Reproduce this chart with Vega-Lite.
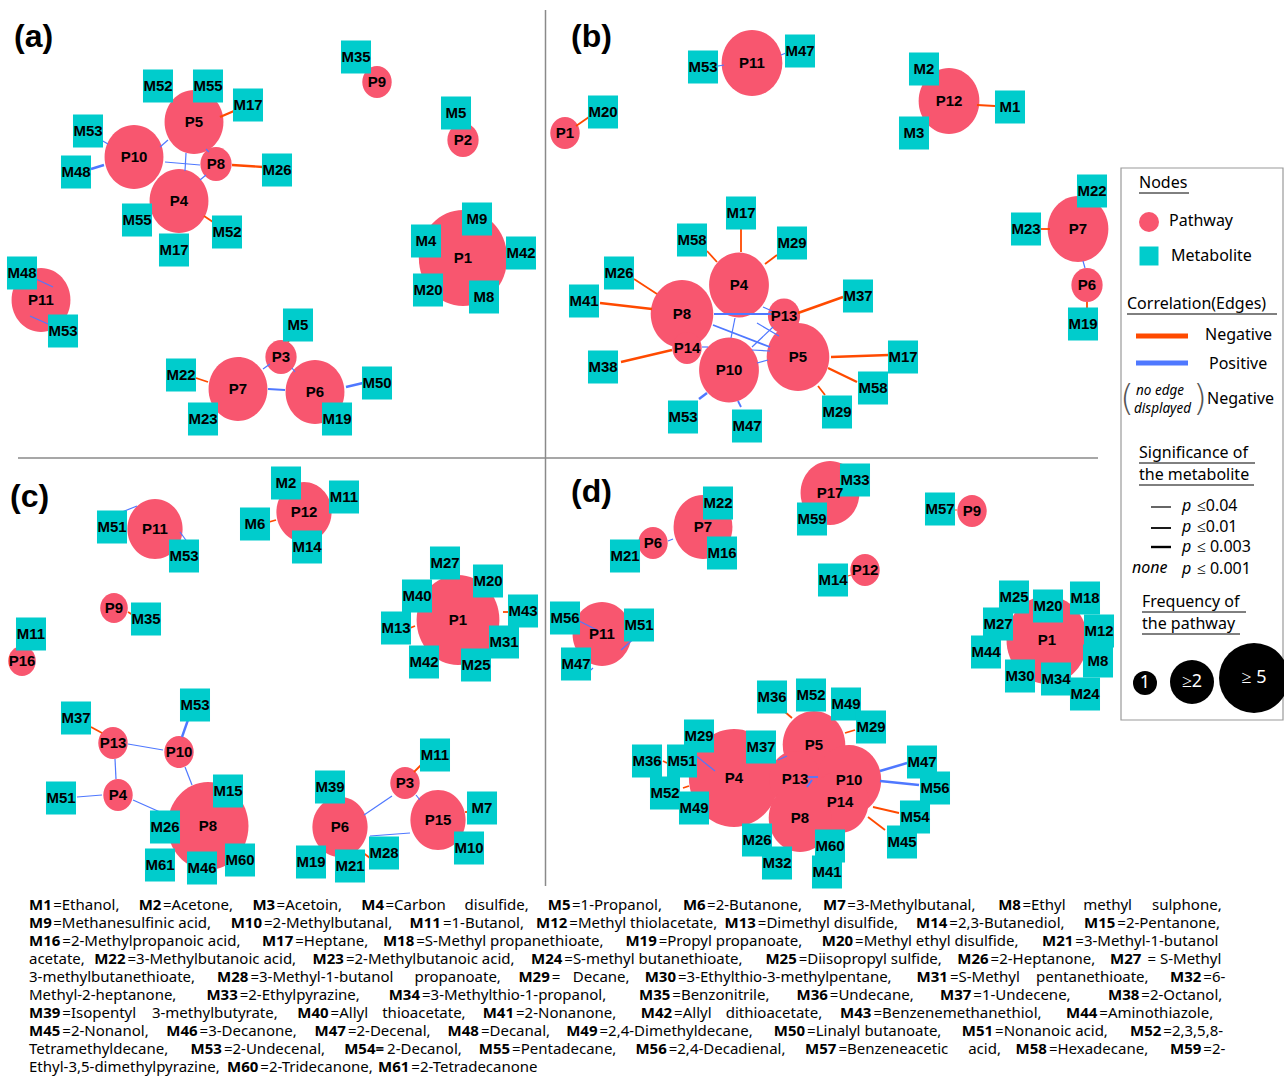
{
  "$schema": "https://vega.github.io/schema/vega-lite/v6.json",
  "width": 1284,
  "height": 1077,
  "autosize": {"type": "none"},
  "padding": 0,
  "background": "white",
  "config": {"view": {"stroke": null}, "text": {"font": "Noto Sans"}},
  "encoding": {
    "x": {"field": "x", "type": "quantitative", "scale": {"domain": [0, 1284], "nice": false, "zero": false}, "axis": null},
    "y": {"field": "y", "type": "quantitative", "scale": {"domain": [0, 1077], "nice": false, "zero": false, "reverse": true}, "axis": null}
  },
  "datasets": {
    "frame": [
      {"x": 545.5, "y": 10, "x2": 545.5, "y2": 886},
      {"x": 18, "y": 458, "x2": 1098, "y2": 458}
    ],
    "legendBox": [{"x": 1121, "y": 168, "x2": 1283, "y2": 720}],
    "nodes": [
      {"panel": "a", "kind": "P", "id": "P5", "x": 194, "y": 122, "r": 32},
      {"panel": "a", "kind": "P", "id": "P10", "x": 134, "y": 157, "r": 32},
      {"panel": "a", "kind": "P", "id": "P8", "x": 216, "y": 164, "r": 17},
      {"panel": "a", "kind": "P", "id": "P4", "x": 179, "y": 201, "r": 32},
      {"panel": "a", "kind": "P", "id": "P9", "x": 377, "y": 82, "r": 16},
      {"panel": "a", "kind": "P", "id": "P2", "x": 463, "y": 140, "r": 17},
      {"panel": "a", "kind": "P", "id": "P1", "x": 463, "y": 258, "r": 48},
      {"panel": "a", "kind": "P", "id": "P11", "x": 41, "y": 300, "r": 32},
      {"panel": "a", "kind": "P", "id": "P3", "x": 281, "y": 357, "r": 17},
      {"panel": "a", "kind": "P", "id": "P7", "x": 238, "y": 389, "r": 32},
      {"panel": "a", "kind": "P", "id": "P6", "x": 315, "y": 392, "r": 32},
      {"panel": "a", "kind": "M", "id": "M35", "x": 356, "y": 57},
      {"panel": "a", "kind": "M", "id": "M52", "x": 158, "y": 86},
      {"panel": "a", "kind": "M", "id": "M55", "x": 208, "y": 86},
      {"panel": "a", "kind": "M", "id": "M17", "x": 248, "y": 105},
      {"panel": "a", "kind": "M", "id": "M53", "x": 88, "y": 131},
      {"panel": "a", "kind": "M", "id": "M5", "x": 456, "y": 113},
      {"panel": "a", "kind": "M", "id": "M48", "x": 76, "y": 172},
      {"panel": "a", "kind": "M", "id": "M26", "x": 277, "y": 170},
      {"panel": "a", "kind": "M", "id": "M55", "x": 137, "y": 220},
      {"panel": "a", "kind": "M", "id": "M52", "x": 227, "y": 232},
      {"panel": "a", "kind": "M", "id": "M17", "x": 174, "y": 250},
      {"panel": "a", "kind": "M", "id": "M9", "x": 477, "y": 219},
      {"panel": "a", "kind": "M", "id": "M4", "x": 426, "y": 241},
      {"panel": "a", "kind": "M", "id": "M42", "x": 521, "y": 253},
      {"panel": "a", "kind": "M", "id": "M20", "x": 428, "y": 290},
      {"panel": "a", "kind": "M", "id": "M8", "x": 484, "y": 297},
      {"panel": "a", "kind": "M", "id": "M48", "x": 22, "y": 273},
      {"panel": "a", "kind": "M", "id": "M53", "x": 63, "y": 331},
      {"panel": "a", "kind": "M", "id": "M5", "x": 298, "y": 325},
      {"panel": "a", "kind": "M", "id": "M22", "x": 181, "y": 375},
      {"panel": "a", "kind": "M", "id": "M50", "x": 377, "y": 383},
      {"panel": "a", "kind": "M", "id": "M23", "x": 203, "y": 419},
      {"panel": "a", "kind": "M", "id": "M19", "x": 337, "y": 419},

      {"panel": "b", "kind": "P", "id": "P11", "x": 752, "y": 63, "r": 33},
      {"panel": "b", "kind": "P", "id": "P12", "x": 949, "y": 101, "r": 33},
      {"panel": "b", "kind": "P", "id": "P1", "x": 565, "y": 133, "r": 16},
      {"panel": "b", "kind": "P", "id": "P7", "x": 1078, "y": 229, "r": 33},
      {"panel": "b", "kind": "P", "id": "P6", "x": 1087, "y": 285, "r": 17},
      {"panel": "b", "kind": "P", "id": "P4", "x": 739, "y": 285, "r": 32.5},
      {"panel": "b", "kind": "P", "id": "P8", "x": 682, "y": 314, "r": 34},
      {"panel": "b", "kind": "P", "id": "P13", "x": 784, "y": 316, "r": 17.5},
      {"panel": "b", "kind": "P", "id": "P14", "x": 687, "y": 348, "r": 16},
      {"panel": "b", "kind": "P", "id": "P10", "x": 729, "y": 370, "r": 32.5},
      {"panel": "b", "kind": "P", "id": "P5", "x": 798, "y": 357, "r": 34},
      {"panel": "b", "kind": "M", "id": "M53", "x": 703, "y": 67},
      {"panel": "b", "kind": "M", "id": "M47", "x": 800, "y": 51},
      {"panel": "b", "kind": "M", "id": "M2", "x": 924, "y": 69},
      {"panel": "b", "kind": "M", "id": "M1", "x": 1010, "y": 107},
      {"panel": "b", "kind": "M", "id": "M3", "x": 914, "y": 133},
      {"panel": "b", "kind": "M", "id": "M20", "x": 603, "y": 112},
      {"panel": "b", "kind": "M", "id": "M22", "x": 1092, "y": 191},
      {"panel": "b", "kind": "M", "id": "M23", "x": 1026, "y": 229},
      {"panel": "b", "kind": "M", "id": "M19", "x": 1083, "y": 324},
      {"panel": "b", "kind": "M", "id": "M17", "x": 741, "y": 213},
      {"panel": "b", "kind": "M", "id": "M58", "x": 692, "y": 240},
      {"panel": "b", "kind": "M", "id": "M29", "x": 792, "y": 243},
      {"panel": "b", "kind": "M", "id": "M26", "x": 619, "y": 273},
      {"panel": "b", "kind": "M", "id": "M37", "x": 858, "y": 296},
      {"panel": "b", "kind": "M", "id": "M41", "x": 584, "y": 301},
      {"panel": "b", "kind": "M", "id": "M17", "x": 903, "y": 357},
      {"panel": "b", "kind": "M", "id": "M38", "x": 603, "y": 367},
      {"panel": "b", "kind": "M", "id": "M58", "x": 873, "y": 388},
      {"panel": "b", "kind": "M", "id": "M53", "x": 683, "y": 417},
      {"panel": "b", "kind": "M", "id": "M47", "x": 747, "y": 426},
      {"panel": "b", "kind": "M", "id": "M29", "x": 837, "y": 412},

      {"panel": "c", "kind": "P", "id": "P11", "x": 155, "y": 529, "r": 30},
      {"panel": "c", "kind": "P", "id": "P12", "x": 304, "y": 512, "r": 30},
      {"panel": "c", "kind": "P", "id": "P9", "x": 114, "y": 608, "r": 15},
      {"panel": "c", "kind": "P", "id": "P16", "x": 22, "y": 661, "r": 15},
      {"panel": "c", "kind": "P", "id": "P1", "x": 458, "y": 620, "r": 45},
      {"panel": "c", "kind": "P", "id": "P13", "x": 113, "y": 743, "r": 16},
      {"panel": "c", "kind": "P", "id": "P10", "x": 179, "y": 752, "r": 16},
      {"panel": "c", "kind": "P", "id": "P4", "x": 118, "y": 795, "r": 16},
      {"panel": "c", "kind": "P", "id": "P8", "x": 208, "y": 826, "r": 44},
      {"panel": "c", "kind": "P", "id": "P3", "x": 405, "y": 783, "r": 16},
      {"panel": "c", "kind": "P", "id": "P6", "x": 340, "y": 827, "r": 30},
      {"panel": "c", "kind": "P", "id": "P15", "x": 438, "y": 820, "r": 30},
      {"panel": "c", "kind": "M", "id": "M51", "x": 112, "y": 527},
      {"panel": "c", "kind": "M", "id": "M53", "x": 184, "y": 556},
      {"panel": "c", "kind": "M", "id": "M2", "x": 286, "y": 483},
      {"panel": "c", "kind": "M", "id": "M11", "x": 344, "y": 497},
      {"panel": "c", "kind": "M", "id": "M6", "x": 255, "y": 524},
      {"panel": "c", "kind": "M", "id": "M14", "x": 307, "y": 547},
      {"panel": "c", "kind": "M", "id": "M35", "x": 146, "y": 619},
      {"panel": "c", "kind": "M", "id": "M11", "x": 31, "y": 634},
      {"panel": "c", "kind": "M", "id": "M27", "x": 445, "y": 563},
      {"panel": "c", "kind": "M", "id": "M20", "x": 488, "y": 581},
      {"panel": "c", "kind": "M", "id": "M40", "x": 417, "y": 596},
      {"panel": "c", "kind": "M", "id": "M43", "x": 523, "y": 611},
      {"panel": "c", "kind": "M", "id": "M13", "x": 396, "y": 628},
      {"panel": "c", "kind": "M", "id": "M31", "x": 504, "y": 642},
      {"panel": "c", "kind": "M", "id": "M42", "x": 424, "y": 662},
      {"panel": "c", "kind": "M", "id": "M25", "x": 476, "y": 665},
      {"panel": "c", "kind": "M", "id": "M53", "x": 195, "y": 705},
      {"panel": "c", "kind": "M", "id": "M37", "x": 76, "y": 718},
      {"panel": "c", "kind": "M", "id": "M15", "x": 228, "y": 791},
      {"panel": "c", "kind": "M", "id": "M51", "x": 61, "y": 798},
      {"panel": "c", "kind": "M", "id": "M26", "x": 165, "y": 827},
      {"panel": "c", "kind": "M", "id": "M61", "x": 160, "y": 865},
      {"panel": "c", "kind": "M", "id": "M46", "x": 202, "y": 868},
      {"panel": "c", "kind": "M", "id": "M60", "x": 240, "y": 860},
      {"panel": "c", "kind": "M", "id": "M11", "x": 435, "y": 755},
      {"panel": "c", "kind": "M", "id": "M39", "x": 330, "y": 787},
      {"panel": "c", "kind": "M", "id": "M7", "x": 482, "y": 808},
      {"panel": "c", "kind": "M", "id": "M10", "x": 469, "y": 848},
      {"panel": "c", "kind": "M", "id": "M28", "x": 384, "y": 853},
      {"panel": "c", "kind": "M", "id": "M19", "x": 311, "y": 862},
      {"panel": "c", "kind": "M", "id": "M21", "x": 350, "y": 866},

      {"panel": "d", "kind": "P", "id": "P17", "x": 830, "y": 493, "r": 32},
      {"panel": "d", "kind": "P", "id": "P9", "x": 972, "y": 511, "r": 16},
      {"panel": "d", "kind": "P", "id": "P7", "x": 703, "y": 527, "r": 32},
      {"panel": "d", "kind": "P", "id": "P6", "x": 653, "y": 543, "r": 16},
      {"panel": "d", "kind": "P", "id": "P12", "x": 865, "y": 570, "r": 16},
      {"panel": "d", "kind": "P", "id": "P11", "x": 602, "y": 634, "r": 32},
      {"panel": "d", "kind": "P", "id": "P1", "x": 1047, "y": 640, "r": 44},
      {"panel": "d", "kind": "P", "id": "P4", "x": 734, "y": 778, "r": 49},
      {"panel": "d", "kind": "P", "id": "P5", "x": 814, "y": 745, "r": 34},
      {"panel": "d", "kind": "P", "id": "P13", "x": 795, "y": 779, "r": 28},
      {"panel": "d", "kind": "P", "id": "P10", "x": 849, "y": 780, "r": 35},
      {"panel": "d", "kind": "P", "id": "P14", "x": 840, "y": 802, "r": 31},
      {"panel": "d", "kind": "P", "id": "P8", "x": 800, "y": 818, "r": 34},
      {"panel": "d", "kind": "M", "id": "M33", "x": 855, "y": 480},
      {"panel": "d", "kind": "M", "id": "M59", "x": 812, "y": 519},
      {"panel": "d", "kind": "M", "id": "M57", "x": 940, "y": 509},
      {"panel": "d", "kind": "M", "id": "M22", "x": 718, "y": 503},
      {"panel": "d", "kind": "M", "id": "M16", "x": 722, "y": 553},
      {"panel": "d", "kind": "M", "id": "M21", "x": 625, "y": 556},
      {"panel": "d", "kind": "M", "id": "M14", "x": 833, "y": 580},
      {"panel": "d", "kind": "M", "id": "M25", "x": 1014, "y": 597},
      {"panel": "d", "kind": "M", "id": "M18", "x": 1085, "y": 598},
      {"panel": "d", "kind": "M", "id": "M20", "x": 1048, "y": 606},
      {"panel": "d", "kind": "M", "id": "M27", "x": 998, "y": 624},
      {"panel": "d", "kind": "M", "id": "M12", "x": 1099, "y": 631},
      {"panel": "d", "kind": "M", "id": "M44", "x": 986, "y": 652},
      {"panel": "d", "kind": "M", "id": "M8", "x": 1098, "y": 661},
      {"panel": "d", "kind": "M", "id": "M30", "x": 1020, "y": 676},
      {"panel": "d", "kind": "M", "id": "M34", "x": 1056, "y": 679},
      {"panel": "d", "kind": "M", "id": "M24", "x": 1085, "y": 694},
      {"panel": "d", "kind": "M", "id": "M56", "x": 565, "y": 618},
      {"panel": "d", "kind": "M", "id": "M51", "x": 639, "y": 625},
      {"panel": "d", "kind": "M", "id": "M47", "x": 576, "y": 664},
      {"panel": "d", "kind": "M", "id": "M36", "x": 772, "y": 697},
      {"panel": "d", "kind": "M", "id": "M52", "x": 811, "y": 695},
      {"panel": "d", "kind": "M", "id": "M49", "x": 846, "y": 704},
      {"panel": "d", "kind": "M", "id": "M29", "x": 871, "y": 727},
      {"panel": "d", "kind": "M", "id": "M29", "x": 699, "y": 736},
      {"panel": "d", "kind": "M", "id": "M37", "x": 761, "y": 747},
      {"panel": "d", "kind": "M", "id": "M36", "x": 647, "y": 761},
      {"panel": "d", "kind": "M", "id": "M51", "x": 682, "y": 761},
      {"panel": "d", "kind": "M", "id": "M47", "x": 922, "y": 762},
      {"panel": "d", "kind": "M", "id": "M56", "x": 935, "y": 788},
      {"panel": "d", "kind": "M", "id": "M52", "x": 665, "y": 793},
      {"panel": "d", "kind": "M", "id": "M49", "x": 694, "y": 808},
      {"panel": "d", "kind": "M", "id": "M54", "x": 915, "y": 817},
      {"panel": "d", "kind": "M", "id": "M26", "x": 757, "y": 840},
      {"panel": "d", "kind": "M", "id": "M45", "x": 902, "y": 842},
      {"panel": "d", "kind": "M", "id": "M60", "x": 830, "y": 846},
      {"panel": "d", "kind": "M", "id": "M32", "x": 777, "y": 863},
      {"panel": "d", "kind": "M", "id": "M41", "x": 827, "y": 872}
    ],
    "edges": [
      {"x": 101, "y": 140, "x2": 108, "y2": 144, "sign": "Positive", "sig": "0.04"},
      {"x": 104, "y": 165, "x2": 91, "y2": 169, "sign": "Positive", "sig": "0.003"},
      {"x": 160, "y": 147, "x2": 168, "y2": 140, "sign": "Positive", "sig": "0.04"},
      {"x": 165, "y": 162, "x2": 200, "y2": 165, "sign": "Positive", "sig": "0.04"},
      {"x": 186, "y": 153, "x2": 185, "y2": 171, "sign": "Positive", "sig": "0.04"},
      {"x": 200, "y": 180, "x2": 206, "y2": 175, "sign": "Positive", "sig": "0.04"},
      {"x": 206, "y": 149, "x2": 209, "y2": 152, "sign": "Positive", "sig": "0.04"},
      {"x": 220, "y": 117, "x2": 234, "y2": 111, "sign": "Negative", "sig": "0.003"},
      {"x": 232, "y": 165, "x2": 263, "y2": 167, "sign": "Negative", "sig": "0.003"},
      {"x": 204, "y": 216, "x2": 213, "y2": 222, "sign": "Negative", "sig": "0.01"},
      {"x": 36, "y": 279, "x2": 53, "y2": 287, "sign": "Positive", "sig": "0.04"},
      {"x": 30, "y": 316, "x2": 48, "y2": 324, "sign": "Positive", "sig": "0.04"},
      {"x": 288, "y": 342, "x2": 291, "y2": 337, "sign": "Negative", "sig": "0.01"},
      {"x": 263, "y": 369, "x2": 270, "y2": 364, "sign": "Positive", "sig": "0.04"},
      {"x": 292, "y": 368, "x2": 295, "y2": 372, "sign": "Positive", "sig": "0.04"},
      {"x": 268, "y": 389, "x2": 285, "y2": 390, "sign": "Positive", "sig": "0.01"},
      {"x": 196, "y": 378, "x2": 208, "y2": 382, "sign": "Negative", "sig": "0.01"},
      {"x": 346, "y": 387, "x2": 363, "y2": 383, "sign": "Positive", "sig": "0.003"},

      {"x": 741, "y": 228, "x2": 741, "y2": 252, "sign": "Negative", "sig": "0.01"},
      {"x": 707, "y": 251, "x2": 717, "y2": 262, "sign": "Negative", "sig": "0.01"},
      {"x": 765, "y": 264, "x2": 777, "y2": 255, "sign": "Negative", "sig": "0.01"},
      {"x": 634, "y": 279, "x2": 657, "y2": 294, "sign": "Negative", "sig": "0.01"},
      {"x": 600, "y": 303, "x2": 652, "y2": 309, "sign": "Negative", "sig": "0.003"},
      {"x": 798, "y": 313, "x2": 843, "y2": 297, "sign": "Negative", "sig": "0.003"},
      {"x": 672, "y": 350, "x2": 621, "y2": 362, "sign": "Negative", "sig": "0.003"},
      {"x": 831, "y": 357, "x2": 889, "y2": 355, "sign": "Negative", "sig": "0.003"},
      {"x": 828, "y": 368, "x2": 857, "y2": 382, "sign": "Negative", "sig": "0.003"},
      {"x": 818, "y": 386, "x2": 825, "y2": 395, "sign": "Negative", "sig": "0.01"},
      {"x": 707, "y": 393, "x2": 699, "y2": 399, "sign": "Positive", "sig": "0.003"},
      {"x": 738, "y": 401, "x2": 741, "y2": 407, "sign": "Positive", "sig": "0.01"},
      {"x": 773, "y": 314, "x2": 714, "y2": 314, "sign": "Positive", "sig": "0.01"},
      {"x": 713, "y": 325, "x2": 770, "y2": 347, "sign": "Positive", "sig": "0.01"},
      {"x": 752, "y": 347, "x2": 773, "y2": 327, "sign": "Positive", "sig": "0.04"},
      {"x": 735, "y": 318, "x2": 731, "y2": 338, "sign": "Positive", "sig": "0.04"},
      {"x": 752, "y": 350, "x2": 770, "y2": 351, "sign": "Positive", "sig": "0.04"},
      {"x": 757, "y": 363, "x2": 768, "y2": 360, "sign": "Positive", "sig": "0.04"},
      {"x": 757, "y": 323, "x2": 779, "y2": 336, "sign": "Positive", "sig": "0.04"},
      {"x": 763, "y": 307, "x2": 772, "y2": 311, "sign": "Positive", "sig": "0.04"},
      {"x": 702, "y": 347, "x2": 708, "y2": 347, "sign": "Positive", "sig": "0.04"},
      {"x": 576, "y": 126, "x2": 589, "y2": 117, "sign": "Negative", "sig": "0.01"},
      {"x": 718, "y": 66, "x2": 724, "y2": 65, "sign": "Positive", "sig": "0.04"},
      {"x": 781, "y": 55, "x2": 786, "y2": 53, "sign": "Positive", "sig": "0.04"},
      {"x": 977, "y": 105, "x2": 995, "y2": 106, "sign": "Negative", "sig": "0.01"},
      {"x": 1040, "y": 229, "x2": 1050, "y2": 229, "sign": "Negative", "sig": "0.01"},
      {"x": 1083, "y": 261, "x2": 1085, "y2": 268, "sign": "Positive", "sig": "0.04"},
      {"x": 1087, "y": 302, "x2": 1087, "y2": 309, "sign": "Negative", "sig": "0.01"},

      {"x": 122, "y": 512, "x2": 137, "y2": 506, "sign": "Positive", "sig": "0.04"},
      {"x": 180, "y": 532, "x2": 188, "y2": 543, "sign": "Positive", "sig": "0.04"},
      {"x": 269, "y": 522, "x2": 276, "y2": 520, "sign": "Negative", "sig": "0.01"},
      {"x": 503, "y": 612, "x2": 510, "y2": 612, "sign": "Negative", "sig": "0.01"},
      {"x": 410, "y": 628, "x2": 415, "y2": 626, "sign": "Negative", "sig": "0.01"},
      {"x": 128, "y": 612, "x2": 133, "y2": 615, "sign": "Negative", "sig": "0.01"},
      {"x": 182, "y": 737, "x2": 189, "y2": 717, "sign": "Positive", "sig": "0.003"},
      {"x": 163, "y": 750, "x2": 128, "y2": 744, "sign": "Positive", "sig": "0.04"},
      {"x": 102, "y": 733, "x2": 91, "y2": 727, "sign": "Negative", "sig": "0.01"},
      {"x": 116, "y": 779, "x2": 115, "y2": 759, "sign": "Positive", "sig": "0.04"},
      {"x": 102, "y": 795, "x2": 77, "y2": 797, "sign": "Positive", "sig": "0.04"},
      {"x": 133, "y": 800, "x2": 160, "y2": 812, "sign": "Positive", "sig": "0.04"},
      {"x": 185, "y": 767, "x2": 192, "y2": 785, "sign": "Positive", "sig": "0.04"},
      {"x": 364, "y": 815, "x2": 392, "y2": 796, "sign": "Positive", "sig": "0.04"},
      {"x": 370, "y": 836, "x2": 410, "y2": 833, "sign": "Positive", "sig": "0.04"},
      {"x": 414, "y": 772, "x2": 421, "y2": 765, "sign": "Negative", "sig": "0.01"},
      {"x": 416, "y": 795, "x2": 420, "y2": 800, "sign": "Positive", "sig": "0.04"},
      {"x": 465, "y": 812, "x2": 469, "y2": 812, "sign": "Negative", "sig": "0.01"},
      {"x": 362, "y": 852, "x2": 370, "y2": 858, "sign": "Negative", "sig": "0.01"},

      {"x": 663, "y": 761, "x2": 667, "y2": 763, "sign": "Negative", "sig": "0.01"},
      {"x": 695, "y": 755, "x2": 715, "y2": 771, "sign": "Positive", "sig": "0.04"},
      {"x": 683, "y": 788, "x2": 689, "y2": 786, "sign": "Negative", "sig": "0.01"},
      {"x": 785, "y": 712, "x2": 792, "y2": 718, "sign": "Negative", "sig": "0.01"},
      {"x": 845, "y": 733, "x2": 855, "y2": 730, "sign": "Negative", "sig": "0.01"},
      {"x": 778, "y": 760, "x2": 787, "y2": 756, "sign": "Positive", "sig": "0.04"},
      {"x": 808, "y": 777, "x2": 818, "y2": 777, "sign": "Positive", "sig": "0.01"},
      {"x": 807, "y": 787, "x2": 812, "y2": 780, "sign": "Positive", "sig": "0.01"},
      {"x": 880, "y": 771, "x2": 907, "y2": 763, "sign": "Positive", "sig": "0.003"},
      {"x": 880, "y": 781, "x2": 919, "y2": 785, "sign": "Positive", "sig": "0.003"},
      {"x": 873, "y": 807, "x2": 899, "y2": 813, "sign": "Negative", "sig": "0.01"},
      {"x": 868, "y": 817, "x2": 885, "y2": 830, "sign": "Negative", "sig": "0.01"},
      {"x": 577, "y": 620, "x2": 597, "y2": 630, "sign": "Positive", "sig": "0.04"},
      {"x": 621, "y": 650, "x2": 637, "y2": 636, "sign": "Positive", "sig": "0.04"},
      {"x": 584, "y": 676, "x2": 593, "y2": 668, "sign": "Positive", "sig": "0.04"},
      {"x": 668, "y": 541, "x2": 673, "y2": 539, "sign": "Positive", "sig": "0.04"},
      {"x": 848, "y": 576, "x2": 851, "y2": 575, "sign": "Negative", "sig": "0.04"},
      {"x": 955, "y": 510, "x2": 957, "y2": 510, "sign": "Negative", "sig": "0.04"}
    ],
    "panels": [
      {"x": 14, "y": 37, "t": "(a)"},
      {"x": 571, "y": 37, "t": "(b)"},
      {"x": 10, "y": 497, "t": "(c)"},
      {"x": 571, "y": 492, "t": "(d)"}
    ],
    "legendText": [
      {"x": 1139, "y": 183, "t": "Nodes"},
      {"x": 1169, "y": 221, "t": "Pathway"},
      {"x": 1171, "y": 256, "t": "Metabolite"},
      {"x": 1127, "y": 304, "t": "Correlation(Edges)"},
      {"x": 1205, "y": 335, "t": "Negative"},
      {"x": 1209, "y": 364, "t": "Positive"},
      {"x": 1207, "y": 399, "t": "Negative"},
      {"x": 1139, "y": 453, "t": "Significance of"},
      {"x": 1139, "y": 475, "t": "the metabolite"},
      {"x": 1197, "y": 506, "t": "≤0.04"},
      {"x": 1197, "y": 527, "t": "≤0.01"},
      {"x": 1197, "y": 547, "t": "≤ 0.003"},
      {"x": 1197, "y": 569, "t": "≤ 0.001"},
      {"x": 1142, "y": 602, "t": "Frequency of"},
      {"x": 1142, "y": 624, "t": "the pathway"}
    ],
    "legendItalic": [
      {"x": 1182, "y": 506, "t": "p"},
      {"x": 1182, "y": 527, "t": "p"},
      {"x": 1182, "y": 547, "t": "p"},
      {"x": 1182, "y": 569, "t": "p"},
      {"x": 1132, "y": 568, "t": "none"}
    ],
    "legendSmallItalic": [
      {"x": 1136, "y": 391, "t": "no edge"},
      {"x": 1134, "y": 409, "t": "displayed"}
    ],
    "brackets": [
      {"x": 1127, "y": 399, "t": "("},
      {"x": 1200, "y": 399, "t": ")"}
    ],
    "underlines": [
      {"x": 1139, "x2": 1189, "y": 193},
      {"x": 1127, "x2": 1277, "y": 314},
      {"x": 1139, "x2": 1255, "y": 463},
      {"x": 1139, "x2": 1254, "y": 485},
      {"x": 1142, "x2": 1246, "y": 612},
      {"x": 1142, "x2": 1240, "y": 634}
    ],
    "legendEdge": [
      {"x": 1136, "x2": 1188, "y": 336, "sign": "Negative"},
      {"x": 1136, "x2": 1188, "y": 363, "sign": "Positive"}
    ],
    "legendSig": [
      {"x": 1151, "x2": 1171, "y": 507, "sig": "0.04"},
      {"x": 1151, "x2": 1171, "y": 528, "sig": "0.01"},
      {"x": 1151, "x2": 1171, "y": 547, "sig": "0.003"}
    ],
    "legendPathway": [{"x": 1149, "y": 222, "r": 10}],
    "legendMetabolite": [{"x": 1149, "y": 256}],
    "freqLegend": [
      {"x": 1145, "y": 683, "r": 12, "t": "1"},
      {"x": 1192, "y": 682, "r": 22, "t": "≥2"},
      {"x": 1254, "y": 678, "r": 35, "t": "≥ 5"}
    ],
    "note": [
      {"x": 29, "y": 904.5, "t": "M1", "b": true},
      {"x": 53.2, "y": 904.5, "t": "=Ethanol,", "b": false},
      {"x": 138.7, "y": 904.5, "t": "M2", "b": true},
      {"x": 162.9, "y": 904.5, "t": "=Acetone,", "b": false},
      {"x": 252.4, "y": 904.5, "t": "M3", "b": true},
      {"x": 276.6, "y": 904.5, "t": "=Acetoin,", "b": false},
      {"x": 361.3, "y": 904.5, "t": "M4", "b": true},
      {"x": 385.5, "y": 904.5, "t": "=Carbon", "b": false},
      {"x": 464.6, "y": 904.5, "t": "disulfide,", "b": false},
      {"x": 547.8, "y": 904.5, "t": "M5", "b": true},
      {"x": 572, "y": 904.5, "t": "=1-Propanol,", "b": false},
      {"x": 682.9, "y": 904.5, "t": "M6", "b": true},
      {"x": 707.1, "y": 904.5, "t": "=2-Butanone,", "b": false},
      {"x": 823.1, "y": 904.5, "t": "M7", "b": true},
      {"x": 847.3, "y": 904.5, "t": "=3-Methylbutanal,", "b": false},
      {"x": 998.2, "y": 904.5, "t": "M8", "b": true},
      {"x": 1022.4, "y": 904.5, "t": "=Ethyl", "b": false},
      {"x": 1083.3, "y": 904.5, "t": "methyl", "b": false},
      {"x": 1152, "y": 904.5, "t": "sulphone,", "b": false},

      {"x": 29, "y": 922.6, "t": "M9", "b": true},
      {"x": 53.2, "y": 922.6, "t": "=Methanesulfinic acid,", "b": false},
      {"x": 230.7, "y": 922.6, "t": "M10", "b": true},
      {"x": 264, "y": 922.6, "t": "=2-Methylbutanal,", "b": false},
      {"x": 409.6, "y": 922.6, "t": "M11", "b": true},
      {"x": 442.9, "y": 922.6, "t": "=1-Butanol,", "b": false},
      {"x": 536, "y": 922.6, "t": "M12", "b": true},
      {"x": 569.3, "y": 922.6, "t": "=Methyl thiolacetate,", "b": false},
      {"x": 724.5, "y": 922.6, "t": "M13", "b": true},
      {"x": 757.8, "y": 922.6, "t": "=Dimethyl disulfide,", "b": false},
      {"x": 916, "y": 922.6, "t": "M14", "b": true},
      {"x": 949.3, "y": 922.6, "t": "=2,3-Butanediol,", "b": false},
      {"x": 1084, "y": 922.6, "t": "M15", "b": true},
      {"x": 1117.3, "y": 922.6, "t": "=2-Pentanone,", "b": false},

      {"x": 29, "y": 940.7, "t": "M16", "b": true},
      {"x": 62.3, "y": 940.7, "t": "=2-Methylpropanoic acid,", "b": false},
      {"x": 261.9, "y": 940.7, "t": "M17", "b": true},
      {"x": 295.2, "y": 940.7, "t": "=Heptane,", "b": false},
      {"x": 382.9, "y": 940.7, "t": "M18", "b": true},
      {"x": 416.2, "y": 940.7, "t": "=S-Methyl propanethioate,", "b": false},
      {"x": 625.4, "y": 940.7, "t": "M19", "b": true},
      {"x": 658.7, "y": 940.7, "t": "=Propyl propanoate,", "b": false},
      {"x": 821.8, "y": 940.7, "t": "M20", "b": true},
      {"x": 855.1, "y": 940.7, "t": "=Methyl ethyl disulfide,", "b": false},
      {"x": 1042, "y": 940.7, "t": "M21", "b": true},
      {"x": 1075.3, "y": 940.7, "t": "=3-Methyl-1-butanol", "b": false},

      {"x": 29, "y": 958.8, "t": "acetate,", "b": false},
      {"x": 94.2, "y": 958.8, "t": "M22", "b": true},
      {"x": 127.5, "y": 958.8, "t": "=3-Methylbutanoic acid,", "b": false},
      {"x": 312.6, "y": 958.8, "t": "M23", "b": true},
      {"x": 345.9, "y": 958.8, "t": "=2-Methylbutanoic acid,", "b": false},
      {"x": 531, "y": 958.8, "t": "M24", "b": true},
      {"x": 564.3, "y": 958.8, "t": "=S-methyl butanethioate,", "b": false},
      {"x": 765.4, "y": 958.8, "t": "M25", "b": true},
      {"x": 798.7, "y": 958.8, "t": "=Diisopropyl sulfide,", "b": false},
      {"x": 957.3, "y": 958.8, "t": "M26", "b": true},
      {"x": 990.6, "y": 958.8, "t": "=2-Heptanone,", "b": false},
      {"x": 1110, "y": 958.8, "t": "M27", "b": true},
      {"x": 1147.5, "y": 958.8, "t": "= S-Methyl", "b": false},

      {"x": 29, "y": 976.9, "t": "3-methylbutanethioate,", "b": false},
      {"x": 217.1, "y": 976.9, "t": "M28", "b": true},
      {"x": 250.4, "y": 976.9, "t": "=3-Methyl-1-butanol", "b": false},
      {"x": 414.4, "y": 976.9, "t": "propanoate,", "b": false},
      {"x": 518.4, "y": 976.9, "t": "M29", "b": true},
      {"x": 551.7, "y": 976.9, "t": "=", "b": false},
      {"x": 572.8, "y": 976.9, "t": "Decane,", "b": false},
      {"x": 644.7, "y": 976.9, "t": "M30", "b": true},
      {"x": 678, "y": 976.9, "t": "=3-Ethylthio-3-methylpentane,", "b": false},
      {"x": 916.6, "y": 976.9, "t": "M31", "b": true},
      {"x": 949.9, "y": 976.9, "t": "=S-Methyl", "b": false},
      {"x": 1036.1, "y": 976.9, "t": "pentanethioate,", "b": false},
      {"x": 1170, "y": 976.9, "t": "M32", "b": true},
      {"x": 1203.3, "y": 976.9, "t": "=6-", "b": false},

      {"x": 29, "y": 995, "t": "Methyl-2-heptanone,", "b": false},
      {"x": 206.4, "y": 995, "t": "M33", "b": true},
      {"x": 239.7, "y": 995, "t": "=2-Ethylpyrazine,", "b": false},
      {"x": 388.7, "y": 995, "t": "M34", "b": true},
      {"x": 422, "y": 995, "t": "=3-Methylthio-1-propanol,", "b": false},
      {"x": 639, "y": 995, "t": "M35", "b": true},
      {"x": 672.3, "y": 995, "t": "=Benzonitrile,", "b": false},
      {"x": 796.5, "y": 995, "t": "M36", "b": true},
      {"x": 829.8, "y": 995, "t": "=Undecane,", "b": false},
      {"x": 940, "y": 995, "t": "M37", "b": true},
      {"x": 973.3, "y": 995, "t": "=1-Undecene,", "b": false},
      {"x": 1108, "y": 995, "t": "M38", "b": true},
      {"x": 1141.3, "y": 995, "t": "=2-Octanol,", "b": false},

      {"x": 29, "y": 1013.1, "t": "M39", "b": true},
      {"x": 62.3, "y": 1013.1, "t": "=Isopentyl", "b": false},
      {"x": 151.9, "y": 1013.1, "t": "3-methylbutyrate,", "b": false},
      {"x": 297.3, "y": 1013.1, "t": "M40", "b": true},
      {"x": 330.6, "y": 1013.1, "t": "=Allyl", "b": false},
      {"x": 382.2, "y": 1013.1, "t": "thioacetate,", "b": false},
      {"x": 482.7, "y": 1013.1, "t": "M41", "b": true},
      {"x": 516, "y": 1013.1, "t": "=2-Nonanone,", "b": false},
      {"x": 640.8, "y": 1013.1, "t": "M42", "b": true},
      {"x": 674.1, "y": 1013.1, "t": "=Allyl", "b": false},
      {"x": 725.7, "y": 1013.1, "t": "dithioacetate,", "b": false},
      {"x": 840.1, "y": 1013.1, "t": "M43", "b": true},
      {"x": 873.4, "y": 1013.1, "t": "=Benzenemethanethiol,", "b": false},
      {"x": 1066, "y": 1013.1, "t": "M44", "b": true},
      {"x": 1099.3, "y": 1013.1, "t": "=Aminothiazole,", "b": false},

      {"x": 29, "y": 1031.2, "t": "M45", "b": true},
      {"x": 62.3, "y": 1031.2, "t": "=2-Nonanol,", "b": false},
      {"x": 166.3, "y": 1031.2, "t": "M46", "b": true},
      {"x": 199.6, "y": 1031.2, "t": "=3-Decanone,", "b": false},
      {"x": 314.6, "y": 1031.2, "t": "M47", "b": true},
      {"x": 347.9, "y": 1031.2, "t": "=2-Decenal,", "b": false},
      {"x": 447.6, "y": 1031.2, "t": "M48", "b": true},
      {"x": 480.9, "y": 1031.2, "t": "=Decanal,", "b": false},
      {"x": 566.2, "y": 1031.2, "t": "M49", "b": true},
      {"x": 599.5, "y": 1031.2, "t": "=2,4-Dimethyldecane,", "b": false},
      {"x": 773.8, "y": 1031.2, "t": "M50", "b": true},
      {"x": 807.1, "y": 1031.2, "t": "=Linalyl butanoate,", "b": false},
      {"x": 961.8, "y": 1031.2, "t": "M51", "b": true},
      {"x": 995.1, "y": 1031.2, "t": "=Nonanoic acid,", "b": false},
      {"x": 1130, "y": 1031.2, "t": "M52", "b": true},
      {"x": 1163.3, "y": 1031.2, "t": "=2,3,5,8-", "b": false},

      {"x": 29, "y": 1049.3, "t": "Tetramethyldecane,", "b": false},
      {"x": 190.6, "y": 1049.3, "t": "M53", "b": true},
      {"x": 223.9, "y": 1049.3, "t": "=2-Undecenal,", "b": false},
      {"x": 344.2, "y": 1049.3, "t": "M54=", "b": true},
      {"x": 387.1, "y": 1049.3, "t": "2-Decanol,", "b": false},
      {"x": 478.8, "y": 1049.3, "t": "M55", "b": true},
      {"x": 512.1, "y": 1049.3, "t": "=Pentadecane,", "b": false},
      {"x": 635.4, "y": 1049.3, "t": "M56", "b": true},
      {"x": 668.7, "y": 1049.3, "t": "=2,4-Decadienal,", "b": false},
      {"x": 805.1, "y": 1049.3, "t": "M57", "b": true},
      {"x": 838.4, "y": 1049.3, "t": "=Benzeneacetic", "b": false},
      {"x": 968.2, "y": 1049.3, "t": "acid,", "b": false},
      {"x": 1015.6, "y": 1049.3, "t": "M58", "b": true},
      {"x": 1048.9, "y": 1049.3, "t": "=Hexadecane,", "b": false},
      {"x": 1170, "y": 1049.3, "t": "M59", "b": true},
      {"x": 1203.3, "y": 1049.3, "t": "=2-", "b": false},

      {"x": 29, "y": 1067.4, "t": "Ethyl-3,5-dimethylpyrazine,", "b": false},
      {"x": 227, "y": 1067.4, "t": "M60", "b": true},
      {"x": 260.3, "y": 1067.4, "t": "=2-Tridecanone,", "b": false},
      {"x": 378, "y": 1067.4, "t": "M61", "b": true},
      {"x": 411.3, "y": 1067.4, "t": "=2-Tetradecanone", "b": false}
    ]
  },
  "layer": [
    {
      "data": {"name": "frame"},
      "mark": {"type": "rule", "color": "#8a8a8a", "strokeWidth": 1.5},
      "encoding": {"x2": {"field": "x2"}, "y2": {"field": "y2"}}
    },
    {
      "data": {"name": "legendBox"},
      "mark": {"type": "rect", "filled": false, "color": "#9a9a9a", "strokeWidth": 1.2},
      "encoding": {"x2": {"field": "x2"}, "y2": {"field": "y2"}}
    },
    {
      "data": {"name": "nodes"},
      "transform": [{"filter": "datum.kind == 'P'"}],
      "mark": {"type": "point", "filled": true, "opacity": 1, "color": "#f8566f", "strokeWidth": 0,
               "shape": "M0,-1A0.92,1 0 1,1 0,1A0.92,1 0 1,1 0,-1Z"},
      "encoding": {
        "size": {"field": "r", "type": "quantitative", "scale": {"type": "pow", "exponent": 2, "domain": [0, 50], "range": [0, 10000]}, "legend": null}
      }
    },
    {
      "data": {"name": "edges"},
      "mark": {"type": "rule", "strokeCap": "butt"},
      "encoding": {
        "x2": {"field": "x2"},
        "y2": {"field": "y2"},
        "color": {"field": "sign", "type": "nominal", "scale": {"domain": ["Negative", "Positive"], "range": ["#ff4a00", "#4f78ff"]}, "legend": null},
        "strokeWidth": {"field": "sig", "type": "ordinal", "scale": {"domain": ["0.04", "0.01", "0.003"], "range": [1.2, 2.4, 3.4]}, "legend": null}
      }
    },
    {
      "data": {"name": "nodes"},
      "transform": [{"filter": "datum.kind == 'M'"}],
      "mark": {"type": "point", "filled": true, "opacity": 1, "color": "#00cccc", "strokeWidth": 0, "size": 1089,
               "shape": "M-0.91,-1H0.91V1H-0.91Z"}
    },
    {
      "data": {"name": "nodes"},
      "mark": {"type": "text", "font": "Liberation Sans Narrow, Arial Narrow, Liberation Sans", "fontWeight": "bold", "fontSize": 15, "color": "#000", "align": "center", "baseline": "middle"},
      "encoding": {"text": {"field": "id"}}
    },
    {
      "data": {"name": "panels"},
      "mark": {"type": "text", "font": "Liberation Sans", "fontWeight": "bold", "fontSize": 32, "color": "#000", "align": "left", "baseline": "middle"},
      "encoding": {"text": {"field": "t"}}
    },
    {
      "data": {"name": "legendPathway"},
      "mark": {"type": "point", "shape": "circle", "filled": true, "opacity": 1, "color": "#f8566f", "strokeWidth": 0},
      "encoding": {"size": {"field": "r", "type": "quantitative", "scale": {"type": "pow", "exponent": 2, "domain": [0, 50], "range": [0, 10000]}, "legend": null}}
    },
    {
      "data": {"name": "legendMetabolite"},
      "mark": {"type": "point", "shape": "square", "filled": true, "opacity": 1, "color": "#00cccc", "strokeWidth": 0, "size": 361}
    },
    {
      "data": {"name": "legendEdge"},
      "mark": {"type": "rule", "strokeWidth": 5, "strokeCap": "butt"},
      "encoding": {
        "x2": {"field": "x2"},
        "color": {"field": "sign", "type": "nominal", "scale": {"domain": ["Negative", "Positive"], "range": ["#ff4a00", "#4f78ff"]}, "legend": null}
      }
    },
    {
      "data": {"name": "legendSig"},
      "mark": {"type": "rule", "color": "#000", "strokeCap": "butt"},
      "encoding": {
        "x2": {"field": "x2"},
        "strokeWidth": {"field": "sig", "type": "ordinal", "scale": {"domain": ["0.04", "0.01", "0.003"], "range": [1.2, 2.4, 3.4]}, "legend": null}
      }
    },
    {
      "data": {"name": "underlines"},
      "mark": {"type": "rule", "color": "#000", "strokeWidth": 1},
      "encoding": {"x2": {"field": "x2"}}
    },
    {
      "data": {"name": "legendText"},
      "mark": {"type": "text", "font": "Noto Sans", "fontSize": 16, "color": "#000", "align": "left", "baseline": "middle"},
      "encoding": {"text": {"field": "t"}}
    },
    {
      "data": {"name": "legendItalic"},
      "mark": {"type": "text", "font": "Noto Sans", "fontStyle": "italic", "fontSize": 16, "color": "#000", "align": "left", "baseline": "middle"},
      "encoding": {"text": {"field": "t"}}
    },
    {
      "data": {"name": "legendSmallItalic"},
      "mark": {"type": "text", "font": "Noto Sans", "fontStyle": "italic", "fontSize": 13.5, "color": "#000", "align": "left", "baseline": "middle"},
      "encoding": {"text": {"field": "t"}}
    },
    {
      "data": {"name": "brackets"},
      "mark": {"type": "text", "font": "DejaVu Sans", "fontSize": 36, "fontWeight": "lighter", "color": "#555", "align": "center", "baseline": "middle"},
      "encoding": {"text": {"field": "t"}}
    },
    {
      "data": {"name": "freqLegend"},
      "mark": {"type": "point", "shape": "circle", "filled": true, "opacity": 1, "color": "#000", "strokeWidth": 0},
      "encoding": {"size": {"field": "r", "type": "quantitative", "scale": {"type": "pow", "exponent": 2, "domain": [0, 50], "range": [0, 10000]}, "legend": null}}
    },
    {
      "data": {"name": "freqLegend"},
      "mark": {"type": "text", "font": "Noto Sans", "fontSize": 18, "color": "#fff", "align": "center", "baseline": "middle"},
      "encoding": {"text": {"field": "t"}}
    },
    {
      "data": {"name": "note"},
      "transform": [{"filter": "datum.b"}],
      "mark": {"type": "text", "font": "Noto Sans", "fontWeight": "bold", "fontSize": 15, "color": "#000", "align": "left", "baseline": "middle"},
      "encoding": {"text": {"field": "t"}}
    },
    {
      "data": {"name": "note"},
      "transform": [{"filter": "!datum.b"}],
      "mark": {"type": "text", "font": "Noto Sans", "fontSize": 15, "color": "#000", "align": "left", "baseline": "middle"},
      "encoding": {"text": {"field": "t"}}
    }
  ]
}
